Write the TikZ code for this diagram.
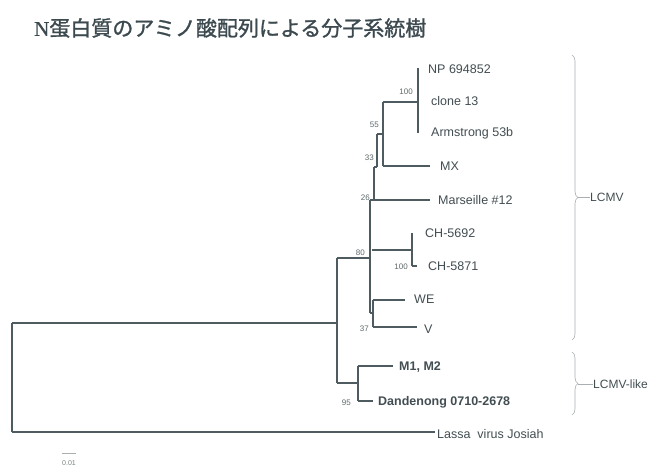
\documentclass[tikz,border=0pt]{standalone}
\usepackage{fontspec}
\setmainfont{Liberation Sans}
\newfontfamily\cjkfont[FakeBold=1.2]{Noto Sans CJK JP}
\newfontfamily\serifn[FakeBold=0.8]{Liberation Serif}
\usetikzlibrary{decorations.pathreplacing}
\definecolor{treec}{HTML}{4E5B60}
\definecolor{labc}{HTML}{434E52}
\definecolor{titlec}{HTML}{3C4A50}
\definecolor{brkc}{HTML}{A9AEB0}
\begin{document}
\begin{tikzpicture}[x=1pt,y=-1pt,
  br/.style={draw=treec, line width=1.4pt},
  leaf/.style={anchor=west, inner sep=0pt, font=\fontsize{12.5}{12.5}\selectfont, text=labc},
  boldleaf/.style={leaf, font=\fontsize{12.5}{12.5}\selectfont\bfseries},
  boot/.style={anchor=east, inner sep=0pt, font=\fontsize{8}{8}\selectfont, text=labc!85},
  brace/.style={draw=brkc, line width=0.6pt, decorate, decoration={brace, amplitude=6pt}},
  grp/.style={anchor=west, inner sep=0pt, font=\fontsize{12}{12}\selectfont, text=labc}]
\useasboundingbox (0,0) rectangle (660,475);
\fill[white] (0,0) rectangle (660,475);

% title
\node[anchor=west, inner sep=0pt, text=titlec, font=\fontsize{21}{21}\selectfont] (title) at (34,28)
  {{\serifn N}\cjkfont 蛋白質のアミノ酸配列による分子系統樹};

% ---- internal node coordinates
\coordinate (rt) at (12,323);
\coordinate (rb) at (12,432);
\coordinate (n80) at (337,323);
\coordinate (n80t) at (337,258);
\coordinate (n80b) at (337,383);
\coordinate (nL) at (370,258);
\coordinate (nLt) at (370,200);
\coordinate (nLb) at (370,313);
\coordinate (n26) at (374,200);
\coordinate (n26t) at (374,167);
\coordinate (n33) at (377,167);
\coordinate (n33t) at (377,134);
\coordinate (n55) at (383,134);
\coordinate (n55t) at (383,102);
\coordinate (n55b) at (383,166);
\coordinate (n100) at (418,102);
\coordinate (n100t) at (418,68);
\coordinate (n100b) at (418,133);
\coordinate (nCH) at (412,250);
\coordinate (nCHt) at (412,233);
\coordinate (nCHb) at (412,266);
\coordinate (nCHs) at (372,250);
\coordinate (n37) at (373,313);
\coordinate (n37t) at (373,300);
\coordinate (n37b) at (373,327);
\coordinate (n95) at (358,383);
\coordinate (n95t) at (358,366);
\coordinate (n95b) at (358,401);

% ---- leaf tips
\coordinate (tMX) at (430,166);
\coordinate (tMa) at (430,200);
\coordinate (tC2) at (417,266);
\coordinate (tWE) at (405,300);
\coordinate (tV) at (417,327);
\coordinate (tM1) at (393,366);
\coordinate (tDa) at (373,401);
\coordinate (tLa) at (435,432);

% ---- leaf labels
\node[leaf] (lNP) at (428,69) {NP 694852};
\node[leaf] (lcl) at (431,101) {clone 13};
\node[leaf] (lAr) at (431,133) {Armstrong 53b};
\node[leaf] (lMX) at (440,166) {MX};
\node[leaf] (lMa) at (438,200) {Marseille \#12};
\node[leaf] (lC1) at (425,233) {CH-5692};
\node[leaf] (lC2) at (428,266) {CH-5871};
\node[leaf] (lWE) at (414,299) {WE};
\node[leaf] (lV) at (424,329) {V};
\node[boldleaf] (lM1) at (399,367) {M1, M2};
\node[boldleaf] (lDa) at (378,402) {Dandenong 0710-2678};
\node[leaf] (lLa) at (437,434) {Lassa\ \ virus Josiah};

% ---- branches
\draw[br] (rt) -- (rb);
\draw[br] (rt) -- (n80);
\draw[br] (rb) -- (tLa);
\draw[br] (n80t) -- (n80b);
\draw[br] (n80t) -- (nL);
\draw[br] (nLt) -- (nLb);
\draw[br] (nLt) -- (n26);
\draw[br] (n26t) -- (n26);
\draw[br] (n26) -- (tMa);
\draw[br] (n26t) -- (n33);
\draw[br] (n33t) -- (n33);
\draw[br] (n33t) -- (n55);
\draw[br] (n55t) -- (n55b);
\draw[br] (n55t) -- (n100);
\draw[br] (n100t) -- (n100b);
\draw[br] (n55b) -- (tMX);
\draw[br] (nCHs) -- (nCH);
\draw[br] (nCHt) -- (nCHb);
\draw[br] (nCHb) -- (tC2);
\draw[br] (nLb) -- (n37);
\draw[br] (n37t) -- (n37b);
\draw[br] (n37t) -- (tWE);
\draw[br] (n37b) -- (tV);
\draw[br] (n80b) -- (n95);
\draw[br] (n95t) -- (n95b);
\draw[br] (n95t) -- (tM1);
\draw[br] (n95b) -- (tDa);

% ---- bootstrap values
\node[boot] (b100a) at (413,92) {100};
\node[boot] (b55) at (379,125) {55};
\node[boot] (b33) at (374,158) {33};
\node[boot] (b26) at (370,198) {26};
\node[boot] (b80) at (365,253) {80};
\node[boot] (b100b) at (408,267) {100};
\node[boot] (b37) at (369,329) {37};
\node[boot] (b95) at (351,403) {95};

% ---- group braces
\coordinate (bLt) at (572,55);
\coordinate (bLb) at (572,340);
\coordinate (bLtip) at (578,197);
\draw[brace] (bLt) -- (bLb);
\node[grp] (gL) at (590,197) {LCMV};
\draw[draw=brkc, line width=0.6pt] (bLtip) -- (gL.west);

\coordinate (bMt) at (572,352);
\coordinate (bMb) at (572,415);
\coordinate (bMtip) at (578,384);
\draw[brace] (bMt) -- (bMb);
\node[grp] (gM) at (593,384) {LCMV-like};
\draw[draw=brkc, line width=0.6pt] (bMtip) -- (gM.west);

% ---- scale bar
\coordinate (s0) at (62,453);
\coordinate (s1) at (76,453);
\draw[draw=brkc, line width=0.6pt] (s0) -- (s1);
\node[inner sep=0pt, font=\fontsize{7}{7}\selectfont, text=labc!70] (sl) at (69,463) {0.01};
\end{tikzpicture}
\end{document}
